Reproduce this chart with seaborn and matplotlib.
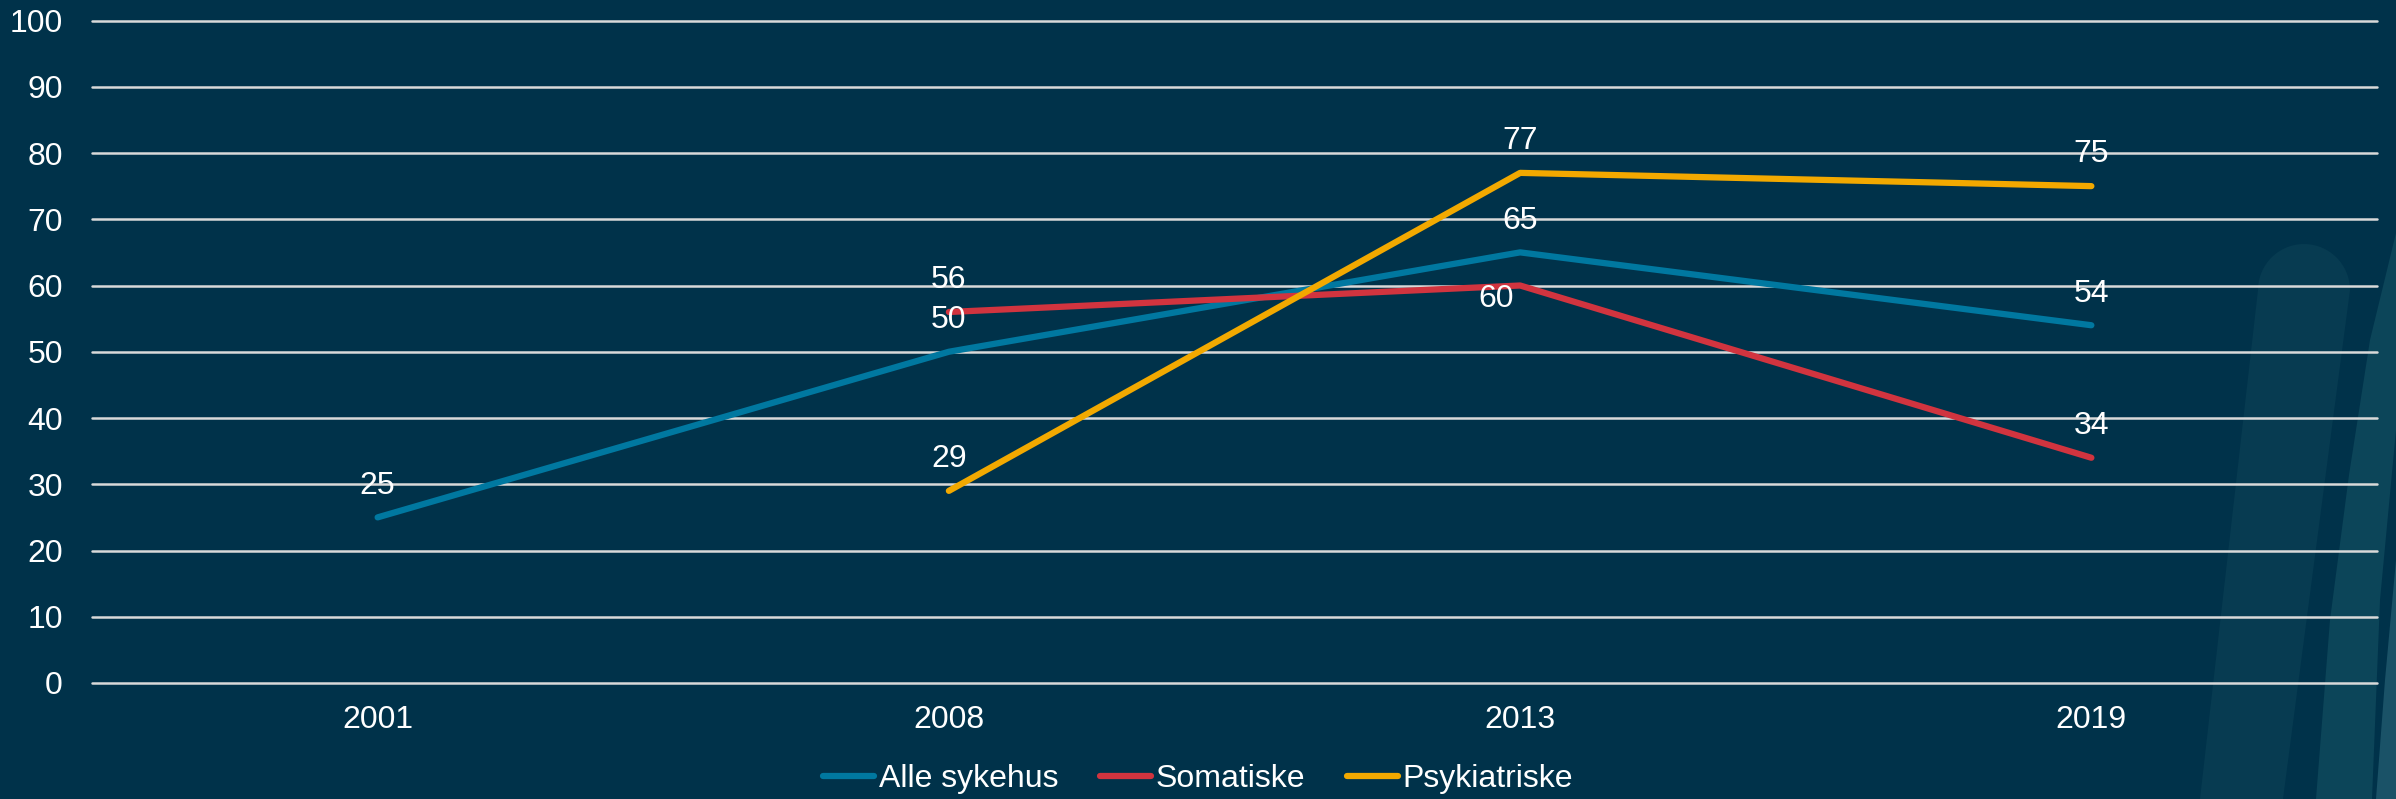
import numpy as np
import pandas as pd
import matplotlib
matplotlib.use('Agg')
import matplotlib.pyplot as plt
from matplotlib.patches import Polygon
from matplotlib.lines import Line2D
import seaborn as sns

# Data
years = ['2001', '2008', '2013', '2019']
alle_sykehus = [25, 50, 65, 54]
somatiske = [None, 56, 60, 34]
psykiatriske = [None, 29, 77, 75]

series_names = ['Alle sykehus', 'Somatiske', 'Psykiatriske']
series_values = [alle_sykehus, somatiske, psykiatriske]
colors = {'Alle sykehus': '#0078A0', 'Somatiske': '#D1343F', 'Psykiatriske': '#F2A900'}

rows = []
for name, vals in zip(series_names, series_values):
    for yr, v in zip(years, vals):
        if v is not None:
            rows.append({'year': yr, 'value': v, 'serie': name})
df = pd.DataFrame(rows)

BG = '#00324A'
W, H = 2396, 799
FS = 23

sns.set_style('white')
plt.rcParams['font.family'] = ['Liberation Sans', 'DejaVu Sans']

fig = plt.figure(figsize=(W / 100, H / 100), dpi=100, facecolor=BG)
ax = fig.add_axes([92 / W, 1 - 683 / H, (2377 - 92) / W, (683 - 20.5) / H])
ax.set_facecolor('none')


# decorative background shapes (pixel coords -> figure coords)
def fig_poly(pts, color):
    pts = np.array(pts, dtype=float)
    xy = np.column_stack([pts[:, 0] / W, 1 - pts[:, 1] / H])
    fig.patches.append(Polygon(xy, closed=True, transform=fig.transFigure,
                               facecolor=color, edgecolor='none', zorder=-1))


t = np.linspace(np.pi, 0, 30)
arc = [(2304 + 46 * np.cos(a), 290 - 46 * np.sin(a)) for a in t]
fig_poly(arc + [(2283, 799), (2200, 799)], '#073B51')
fig_poly([(2396, 233), (2370, 340), (2349, 475), (2330, 620), (2316, 799),
          (2372, 799), (2380, 600), (2396, 430)], '#0C4559')
fig_poly([(2396, 560), (2385, 680), (2376, 799), (2396, 799)], '#1A5267')

sns.lineplot(data=df, x='year', y='value', hue='serie', hue_order=series_names,
             palette=colors, linewidth=4.5, sort=False, legend=False, ax=ax,
             solid_capstyle='round', zorder=3)

# value labels
for name, vals in zip(series_names, series_values):
    for i, v in enumerate(vals):
        if v is None:
            continue
        if name == 'Somatiske' and years[i] == '2013':
            ax.annotate(str(v), (i, v), xytext=(-17, 1), textcoords='offset points',
                        ha='center', va='top', color='white', fontsize=FS, zorder=4)
        else:
            ax.annotate(str(v), (i, v), xytext=(0, 12), textcoords='offset points',
                        ha='center', va='bottom', color='white', fontsize=FS, zorder=4)

ax.set_xlim(-0.5, 3.5)
ax.set_ylim(0, 100)
ax.set_yticks(range(0, 101, 10))
ax.set_xlabel('')
ax.set_ylabel('')
ax.yaxis.grid(True, color='#D9D9D9', linewidth=1.8)
ax.xaxis.grid(False)
ax.set_axisbelow(True)
for gl in ax.get_ygridlines():
    gl.set_clip_on(False)
for s in ax.spines.values():
    s.set_visible(False)
ax.tick_params(axis='y', length=0, pad=21, labelsize=FS, labelcolor='white')
ax.tick_params(axis='x', length=0, pad=16, labelsize=FS, labelcolor='white')

handles = [Line2D([0], [0], color=colors[n], lw=4.5, solid_capstyle='round') for n in series_names]
leg = fig.legend(handles, series_names, loc='center', bbox_to_anchor=(0.5, 20 / H), ncol=3,
                 frameon=False, handlelength=1.6, handletextpad=0.15, columnspacing=1.3,
                 fontsize=FS)
for txt in leg.get_texts():
    txt.set_color('white')

fig.savefig('out.png', dpi=100, facecolor=BG)
